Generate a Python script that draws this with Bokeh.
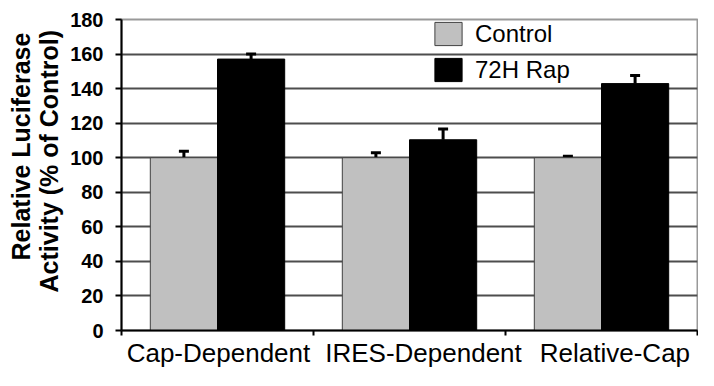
from bokeh.plotting import figure
from bokeh.models import ColumnDataSource, FixedTicker, Whisker, TeeHead, Range1d, Title
from bokeh.embed import file_html
from bokeh.resources import INLINE

categories = ["Cap-Dependent", "IRES-Dependent", "Relative-Cap"]
series_names = ["Control", "72H Rap"]
control_vals = [100.0, 100.0, 100.0]
control_err = [3.8, 2.9, 0.9]
rap_vals = [157.1, 110.4, 142.9]
rap_err = [2.9, 6.2, 4.7]
y_ticks = [0, 20, 40, 60, 80, 100, 120, 140, 160, 180]
y_title_lines = ["Relative Luciferase", "Activity (% of Control)"]

FONT = "Liberation Sans"
bar_w = 0.35
n = len(categories)
centers = [i + 0.5 for i in range(n)]
# the reference nudges the two longer category labels to the right
label_shift = [0.005, 0.073, 0.07]
label_pos = [c + s for c, s in zip(centers, label_shift)]

ctrl_src = ColumnDataSource(dict(
    x=[c - bar_w / 2 for c in centers], top=control_vals,
    upper=[v + e for v, e in zip(control_vals, control_err)]))
rap_src = ColumnDataSource(dict(
    x=[c + bar_w / 2 for c in centers], top=rap_vals,
    upper=[v + e for v, e in zip(rap_vals, rap_err)]))

p = figure(width=698, height=370, output_backend="svg", toolbar_location=None,
           x_range=Range1d(0, n), y_range=Range1d(0, 180),
           min_border_left=121, min_border_right=1, min_border_top=19, min_border_bottom=38)

p.vbar(x="x", top="top", width=bar_w, bottom=0, source=ctrl_src,
       fill_color="#c0c0c0", line_color="#404040", line_width=1,
       legend_label=series_names[0])
p.vbar(x="x", top="top", width=bar_w, bottom=0, source=rap_src,
       fill_color="black", line_color="black", line_width=1,
       legend_label=series_names[1])

for src in (ctrl_src, rap_src):
    w = Whisker(base="x", lower="top", upper="upper", source=src, dimension="height",
                line_color="black", line_width=3, lower_head=None,
                upper_head=TeeHead(size=10, line_color="black", line_width=3))
    p.add_layout(w)

# grid
p.xgrid.visible = False
p.ygrid.ticker = FixedTicker(ticks=y_ticks)
p.ygrid.grid_line_color = "#4d4d4d"
p.ygrid.grid_line_width = 2
p.outline_line_color = "#999999"
p.outline_line_width = 2

# y axis
p.yaxis.ticker = FixedTicker(ticks=y_ticks)
p.yaxis.axis_line_color = "black"
p.yaxis.axis_line_width = 2
p.yaxis.major_tick_line_color = "black"
p.yaxis.major_tick_line_width = 2
p.yaxis.major_tick_out = 6
p.yaxis.major_tick_in = 0
p.yaxis.minor_tick_line_color = None
p.yaxis.major_label_text_font = FONT
p.yaxis.major_label_text_font_style = "bold"
p.yaxis.major_label_text_font_size = "20px"
p.yaxis.major_label_text_color = "black"
p.yaxis.major_label_standoff = 12

# y title as two stacked side titles (inner line added first)
for txt, off, so in ((y_title_lines[1], 38, 9), (y_title_lines[0], 70, -12)):
    t = Title(text=txt, align="left", offset=off, standoff=so,
              text_font=FONT, text_font_style="bold", text_font_size="25px",
              text_color="black", text_line_height=1.0)
    p.add_layout(t, "left")

# x axis: labels near centers, ticks at boundaries
p.xaxis.ticker = FixedTicker(ticks=label_pos, minor_ticks=list(range(n + 1)))
p.xaxis.major_label_overrides = {pos: categories[i] for i, pos in enumerate(label_pos)}
p.xaxis.major_tick_line_color = None
p.xaxis.major_tick_out = 0
p.xaxis.major_tick_in = 0
p.xaxis.minor_tick_line_color = "black"
p.xaxis.minor_tick_line_width = 2
p.xaxis.minor_tick_out = 5
p.xaxis.minor_tick_in = 0
p.xaxis.axis_line_color = "black"
p.xaxis.axis_line_width = 2
p.xaxis.major_label_text_font = FONT
p.xaxis.major_label_text_font_size = "26px"
p.xaxis.major_label_text_color = "black"
p.xaxis.major_label_standoff = 2

# legend
lg = p.legend[0]
lg.location = (310, 246)
lg.border_line_color = None
lg.background_fill_alpha = 0
lg.padding = 0
lg.margin = 0
lg.spacing = 7
lg.glyph_width = 34
lg.glyph_height = 29
lg.label_height = 29
lg.label_standoff = 10
lg.label_text_font = FONT
lg.label_text_font_size = "24px"
lg.label_text_color = "black"

open("out.html", "w").write(file_html(p, INLINE))
